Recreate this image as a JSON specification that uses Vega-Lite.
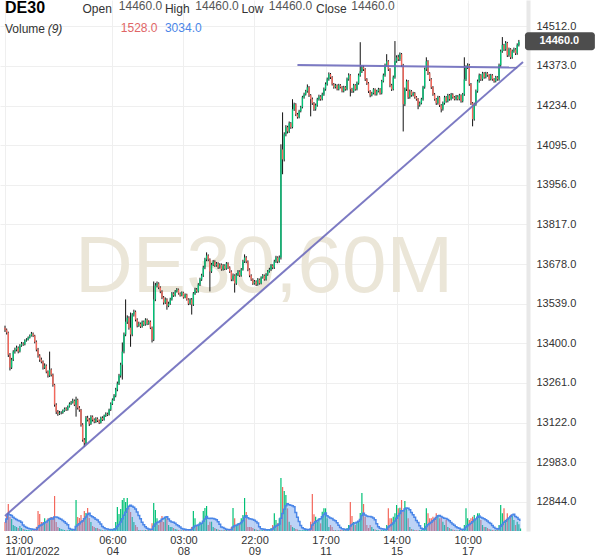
{
"$schema":"https://vega.github.io/schema/vega-lite/v6.json",
"width":528,"height":531,
"autosize":{"type":"none"},
"padding":{"left":0,"top":0,"right":72,"bottom":27},
"background":"white",
"config":{"view":{"stroke":null},"font":"Liberation Sans"},
"datasets":{
"bars":[
{"t":0,"o":13455,"h":13462,"l":13440,"c":13448,"v":5450},
{"t":1,"o":13448,"h":13452,"l":13431,"c":13438,"v":9090},
{"t":2,"o":13438,"h":13441,"l":13352,"c":13360,"v":16360},
{"t":3,"o":13360,"h":13366,"l":13305,"c":13315,"v":8480},
{"t":4,"o":13315,"h":13349,"l":13310,"c":13343,"v":7270},
{"t":5,"o":13343,"h":13376,"l":13338,"c":13371,"v":3640},
{"t":6,"o":13371,"h":13385,"l":13364,"c":13378,"v":3030},
{"t":7,"o":13378,"h":13392,"l":13372,"c":13385,"v":2420},
{"t":8,"o":13385,"h":13389,"l":13365,"c":13371,"v":1820},
{"t":9,"o":13371,"h":13397,"l":13368,"c":13392,"v":3030},
{"t":10,"o":13392,"h":13405,"l":13388,"c":13399,"v":1820},
{"t":11,"o":13399,"h":13404,"l":13391,"c":13396,"v":1210},
{"t":12,"o":13396,"h":13414,"l":13393,"c":13410,"v":910},
{"t":13,"o":13410,"h":13418,"l":13406,"c":13413,"v":610},
{"t":14,"o":13413,"h":13424,"l":13410,"c":13420,"v":610},
{"t":15,"o":13420,"h":13431,"l":13417,"c":13427,"v":480},
{"t":16,"o":13427,"h":13440,"l":13424,"c":13434,"v":480},
{"t":17,"o":13434,"h":13438,"l":13422,"c":13427,"v":610},
{"t":18,"o":13427,"h":13430,"l":13400,"c":13406,"v":910},
{"t":19,"o":13406,"h":13410,"l":13372,"c":13378,"v":2420},
{"t":20,"o":13378,"h":13384,"l":13350,"c":13357,"v":12120},
{"t":21,"o":13357,"h":13362,"l":13335,"c":13343,"v":10300},
{"t":22,"o":13343,"h":13350,"l":13330,"c":13336,"v":5450},
{"t":23,"o":13336,"h":13340,"l":13308,"c":13315,"v":5450},
{"t":24,"o":13315,"h":13330,"l":13310,"c":13322,"v":7700},
{"t":25,"o":13322,"h":13326,"l":13295,"c":13301,"v":4670},
{"t":26,"o":13301,"h":13305,"l":13280,"c":13287,"v":7700},
{"t":27,"o":13287,"h":13371,"l":13282,"c":13308,"v":7700},
{"t":28,"o":13308,"h":13312,"l":13284,"c":13290,"v":8480},
{"t":29,"o":13290,"h":13294,"l":13248,"c":13255,"v":8480},
{"t":30,"o":13255,"h":13258,"l":13178,"c":13185,"v":21210},
{"t":31,"o":13185,"h":13190,"l":13152,"c":13160,"v":5450},
{"t":32,"o":13160,"h":13166,"l":13146,"c":13153,"v":2420},
{"t":33,"o":13153,"h":13163,"l":13149,"c":13157,"v":1820},
{"t":34,"o":13157,"h":13162,"l":13151,"c":13157,"v":1210},
{"t":35,"o":13157,"h":13168,"l":13153,"c":13164,"v":910},
{"t":36,"o":13164,"h":13175,"l":13160,"c":13171,"v":610},
{"t":37,"o":13171,"h":13176,"l":13163,"c":13167,"v":480},
{"t":38,"o":13167,"h":13182,"l":13164,"c":13178,"v":480},
{"t":39,"o":13178,"h":13193,"l":13175,"c":13188,"v":610},
{"t":40,"o":13188,"h":13198,"l":13184,"c":13192,"v":610},
{"t":41,"o":13192,"h":13206,"l":13189,"c":13199,"v":910},
{"t":42,"o":13199,"h":13203,"l":13180,"c":13185,"v":1210},
{"t":43,"o":13185,"h":13213,"l":13143,"c":13202,"v":18790},
{"t":44,"o":13202,"h":13206,"l":13168,"c":13174,"v":8480},
{"t":45,"o":13174,"h":13180,"l":13160,"c":13167,"v":7880},
{"t":46,"o":13167,"h":13170,"l":13108,"c":13115,"v":9700},
{"t":47,"o":13115,"h":13120,"l":13055,"c":13062,"v":6670},
{"t":48,"o":13062,"h":13068,"l":13037,"c":13051,"v":12120},
{"t":49,"o":13051,"h":13145,"l":13046,"c":13139,"v":10910},
{"t":50,"o":13139,"h":13146,"l":13126,"c":13132,"v":13940},
{"t":51,"o":13132,"h":13138,"l":13110,"c":13118,"v":7880},
{"t":52,"o":13118,"h":13148,"l":13114,"c":13143,"v":5450},
{"t":53,"o":13143,"h":13147,"l":13126,"c":13132,"v":3030},
{"t":54,"o":13132,"h":13137,"l":13120,"c":13125,"v":2420},
{"t":55,"o":13125,"h":13141,"l":13121,"c":13136,"v":1820},
{"t":56,"o":13136,"h":13140,"l":13124,"c":13129,"v":1820},
{"t":57,"o":13129,"h":13133,"l":13117,"c":13122,"v":1210},
{"t":58,"o":13122,"h":13143,"l":13119,"c":13139,"v":910},
{"t":59,"o":13139,"h":13144,"l":13128,"c":13132,"v":610},
{"t":60,"o":13132,"h":13150,"l":13129,"c":13146,"v":480},
{"t":61,"o":13146,"h":13158,"l":13142,"c":13153,"v":480},
{"t":62,"o":13153,"h":13157,"l":13145,"c":13150,"v":610},
{"t":63,"o":13150,"h":13171,"l":13147,"c":13167,"v":610},
{"t":64,"o":13167,"h":13193,"l":13163,"c":13188,"v":910},
{"t":65,"o":13188,"h":13207,"l":13184,"c":13202,"v":1210},
{"t":66,"o":13202,"h":13222,"l":13198,"c":13216,"v":1820},
{"t":67,"o":13216,"h":13244,"l":13211,"c":13238,"v":5450},
{"t":68,"o":13238,"h":13266,"l":13232,"c":13259,"v":14540},
{"t":69,"o":13259,"h":13293,"l":13254,"c":13287,"v":10300},
{"t":70,"o":13287,"h":13332,"l":13280,"c":13325,"v":13330},
{"t":71,"o":13325,"h":13403,"l":13273,"c":13371,"v":18790},
{"t":72,"o":13371,"h":13438,"l":13365,"c":13431,"v":20000},
{"t":73,"o":13431,"h":13554,"l":13425,"c":13476,"v":17570},
{"t":74,"o":13476,"h":13498,"l":13468,"c":13490,"v":20000},
{"t":75,"o":13490,"h":13495,"l":13448,"c":13455,"v":14540},
{"t":76,"o":13455,"h":13508,"l":13388,"c":13431,"v":11510},
{"t":77,"o":13431,"h":13506,"l":13425,"c":13501,"v":8480},
{"t":78,"o":13501,"h":13518,"l":13494,"c":13511,"v":5450},
{"t":79,"o":13511,"h":13515,"l":13477,"c":13483,"v":3640},
{"t":80,"o":13483,"h":13488,"l":13456,"c":13462,"v":2420},
{"t":81,"o":13462,"h":13476,"l":13458,"c":13469,"v":610},
{"t":82,"o":13469,"h":13473,"l":13454,"c":13459,"v":480},
{"t":83,"o":13459,"h":13480,"l":13455,"c":13476,"v":480},
{"t":84,"o":13476,"h":13480,"l":13461,"c":13466,"v":480},
{"t":85,"o":13466,"h":13488,"l":13462,"c":13483,"v":610},
{"t":86,"o":13483,"h":13487,"l":13464,"c":13469,"v":610},
{"t":87,"o":13469,"h":13481,"l":13465,"c":13476,"v":910},
{"t":88,"o":13476,"h":13480,"l":13450,"c":13455,"v":1210},
{"t":89,"o":13455,"h":13459,"l":13403,"c":13413,"v":4670},
{"t":90,"o":13413,"h":13617,"l":13408,"c":13554,"v":16970},
{"t":91,"o":13554,"h":13612,"l":13548,"c":13603,"v":12730},
{"t":92,"o":13603,"h":13617,"l":13596,"c":13610,"v":7700},
{"t":93,"o":13610,"h":13614,"l":13590,"c":13596,"v":3640},
{"t":94,"o":13596,"h":13600,"l":13576,"c":13582,"v":6670},
{"t":95,"o":13582,"h":13586,"l":13555,"c":13561,"v":9090},
{"t":96,"o":13561,"h":13566,"l":13536,"c":13543,"v":5450},
{"t":97,"o":13543,"h":13561,"l":13538,"c":13554,"v":8480},
{"t":98,"o":13554,"h":13558,"l":13518,"c":13532,"v":7700},
{"t":99,"o":13532,"h":13546,"l":13527,"c":13539,"v":3640},
{"t":100,"o":13539,"h":13560,"l":13535,"c":13554,"v":2420},
{"t":101,"o":13554,"h":13580,"l":13550,"c":13575,"v":2420},
{"t":102,"o":13575,"h":13579,"l":13563,"c":13568,"v":1820},
{"t":103,"o":13568,"h":13587,"l":13564,"c":13582,"v":1210},
{"t":104,"o":13582,"h":13594,"l":13578,"c":13589,"v":910},
{"t":105,"o":13589,"h":13592,"l":13571,"c":13575,"v":610},
{"t":106,"o":13575,"h":13579,"l":13564,"c":13568,"v":480},
{"t":107,"o":13568,"h":13582,"l":13565,"c":13578,"v":480},
{"t":108,"o":13578,"h":13581,"l":13557,"c":13561,"v":610},
{"t":109,"o":13561,"h":13575,"l":13558,"c":13571,"v":610},
{"t":110,"o":13571,"h":13574,"l":13550,"c":13554,"v":610},
{"t":111,"o":13554,"h":13558,"l":13534,"c":13539,"v":910},
{"t":112,"o":13539,"h":13558,"l":13535,"c":13554,"v":1210},
{"t":113,"o":13554,"h":13559,"l":13501,"c":13536,"v":2420},
{"t":114,"o":13536,"h":13580,"l":13531,"c":13575,"v":12120},
{"t":115,"o":13575,"h":13595,"l":13570,"c":13589,"v":7700},
{"t":116,"o":13589,"h":13594,"l":13577,"c":13582,"v":3640},
{"t":117,"o":13582,"h":13611,"l":13578,"c":13606,"v":3640},
{"t":118,"o":13606,"h":13630,"l":13601,"c":13624,"v":5640},
{"t":119,"o":13624,"h":13644,"l":13619,"c":13638,"v":4670},
{"t":120,"o":13638,"h":13672,"l":13633,"c":13666,"v":12120},
{"t":121,"o":13666,"h":13700,"l":13660,"c":13694,"v":13940},
{"t":122,"o":13694,"h":13719,"l":13688,"c":13708,"v":15150},
{"t":123,"o":13708,"h":13712,"l":13688,"c":13694,"v":3640},
{"t":124,"o":13694,"h":13698,"l":13582,"c":13652,"v":5640},
{"t":125,"o":13652,"h":13682,"l":13647,"c":13676,"v":5640},
{"t":126,"o":13676,"h":13692,"l":13671,"c":13687,"v":2420},
{"t":127,"o":13687,"h":13691,"l":13668,"c":13673,"v":1820},
{"t":128,"o":13673,"h":13685,"l":13669,"c":13680,"v":1210},
{"t":129,"o":13680,"h":13684,"l":13661,"c":13666,"v":910},
{"t":130,"o":13666,"h":13681,"l":13662,"c":13676,"v":610},
{"t":131,"o":13676,"h":13680,"l":13655,"c":13659,"v":480},
{"t":132,"o":13659,"h":13678,"l":13655,"c":13673,"v":480},
{"t":133,"o":13673,"h":13677,"l":13657,"c":13662,"v":610},
{"t":134,"o":13662,"h":13685,"l":13658,"c":13680,"v":610},
{"t":135,"o":13680,"h":13684,"l":13661,"c":13666,"v":910},
{"t":136,"o":13666,"h":13670,"l":13647,"c":13652,"v":1210},
{"t":137,"o":13652,"h":13656,"l":13618,"c":13624,"v":2420},
{"t":138,"o":13624,"h":13645,"l":13618,"c":13638,"v":13940},
{"t":139,"o":13638,"h":13642,"l":13578,"c":13610,"v":7700},
{"t":140,"o":13610,"h":13646,"l":13605,"c":13641,"v":3640},
{"t":141,"o":13641,"h":13657,"l":13636,"c":13652,"v":4670},
{"t":142,"o":13652,"h":13656,"l":13633,"c":13638,"v":4670},
{"t":143,"o":13638,"h":13664,"l":13634,"c":13659,"v":7700},
{"t":144,"o":13659,"h":13693,"l":13655,"c":13687,"v":9700},
{"t":145,"o":13687,"h":13712,"l":13682,"c":13701,"v":20000},
{"t":146,"o":13701,"h":13706,"l":13681,"c":13687,"v":11510},
{"t":147,"o":13687,"h":13691,"l":13653,"c":13659,"v":2420},
{"t":148,"o":13659,"h":13663,"l":13632,"c":13638,"v":2420},
{"t":149,"o":13638,"h":13642,"l":13619,"c":13624,"v":2420},
{"t":150,"o":13624,"h":13628,"l":13605,"c":13610,"v":1820},
{"t":151,"o":13610,"h":13622,"l":13606,"c":13617,"v":1210},
{"t":152,"o":13617,"h":13621,"l":13601,"c":13606,"v":910},
{"t":153,"o":13606,"h":13629,"l":13602,"c":13624,"v":610},
{"t":154,"o":13624,"h":13627,"l":13606,"c":13610,"v":480},
{"t":155,"o":13610,"h":13635,"l":13607,"c":13631,"v":480},
{"t":156,"o":13631,"h":13643,"l":13627,"c":13638,"v":610},
{"t":157,"o":13638,"h":13641,"l":13620,"c":13624,"v":610},
{"t":158,"o":13624,"h":13646,"l":13620,"c":13641,"v":610},
{"t":159,"o":13641,"h":13657,"l":13637,"c":13652,"v":910},
{"t":160,"o":13652,"h":13665,"l":13648,"c":13659,"v":1210},
{"t":161,"o":13659,"h":13678,"l":13654,"c":13673,"v":1820},
{"t":162,"o":13673,"h":13677,"l":13660,"c":13666,"v":3640},
{"t":163,"o":13666,"h":13693,"l":13661,"c":13687,"v":10730},
{"t":164,"o":13687,"h":13707,"l":13682,"c":13701,"v":6670},
{"t":165,"o":13701,"h":13705,"l":13681,"c":13687,"v":4670},
{"t":166,"o":13687,"h":13708,"l":13683,"c":13701,"v":7700},
{"t":167,"o":13701,"h":14098,"l":13694,"c":14080,"v":32120},
{"t":168,"o":14080,"h":14210,"l":13993,"c":14045,"v":26660},
{"t":169,"o":14045,"h":14140,"l":14038,"c":14133,"v":24240},
{"t":170,"o":14133,"h":14165,"l":14126,"c":14158,"v":21820},
{"t":171,"o":14158,"h":14163,"l":14136,"c":14143,"v":13760},
{"t":172,"o":14143,"h":14178,"l":14138,"c":14172,"v":5640},
{"t":173,"o":14172,"h":14176,"l":14152,"c":14158,"v":3640},
{"t":174,"o":14158,"h":14256,"l":14154,"c":14221,"v":2420},
{"t":175,"o":14221,"h":14244,"l":14215,"c":14238,"v":1820},
{"t":176,"o":14238,"h":14242,"l":14197,"c":14203,"v":1210},
{"t":177,"o":14203,"h":14208,"l":14188,"c":14193,"v":910},
{"t":178,"o":14193,"h":14219,"l":14189,"c":14214,"v":610},
{"t":179,"o":14214,"h":14233,"l":14210,"c":14228,"v":480},
{"t":180,"o":14228,"h":14268,"l":14224,"c":14263,"v":480},
{"t":181,"o":14263,"h":14279,"l":14258,"c":14273,"v":610},
{"t":182,"o":14273,"h":14289,"l":14269,"c":14284,"v":610},
{"t":183,"o":14284,"h":14308,"l":14279,"c":14298,"v":910},
{"t":184,"o":14298,"h":14302,"l":14264,"c":14270,"v":1210},
{"t":185,"o":14270,"h":14274,"l":14196,"c":14256,"v":5640},
{"t":186,"o":14256,"h":14262,"l":14236,"c":14242,"v":22420},
{"t":187,"o":14242,"h":14246,"l":14215,"c":14221,"v":10120},
{"t":188,"o":14221,"h":14241,"l":14216,"c":14235,"v":8670},
{"t":189,"o":14235,"h":14261,"l":14230,"c":14256,"v":5640},
{"t":190,"o":14256,"h":14272,"l":14251,"c":14266,"v":7700},
{"t":191,"o":14266,"h":14270,"l":14251,"c":14256,"v":4670},
{"t":192,"o":14256,"h":14279,"l":14252,"c":14273,"v":11700},
{"t":193,"o":14273,"h":14297,"l":14268,"c":14291,"v":13760},
{"t":194,"o":14291,"h":14315,"l":14286,"c":14309,"v":13760},
{"t":195,"o":14309,"h":14332,"l":14304,"c":14326,"v":7700},
{"t":196,"o":14326,"h":14350,"l":14321,"c":14344,"v":2420},
{"t":197,"o":14344,"h":14348,"l":14327,"c":14333,"v":3640},
{"t":198,"o":14333,"h":14337,"l":14304,"c":14309,"v":2420},
{"t":199,"o":14309,"h":14313,"l":14293,"c":14298,"v":610},
{"t":200,"o":14298,"h":14310,"l":14294,"c":14305,"v":480},
{"t":201,"o":14305,"h":14308,"l":14287,"c":14291,"v":480},
{"t":202,"o":14291,"h":14310,"l":14287,"c":14305,"v":480},
{"t":203,"o":14305,"h":14309,"l":14294,"c":14298,"v":610},
{"t":204,"o":14298,"h":14302,"l":14280,"c":14284,"v":610},
{"t":205,"o":14284,"h":14303,"l":14280,"c":14298,"v":910},
{"t":206,"o":14298,"h":14302,"l":14286,"c":14291,"v":1210},
{"t":207,"o":14291,"h":14332,"l":14287,"c":14326,"v":1820},
{"t":208,"o":14326,"h":14347,"l":14321,"c":14340,"v":3640},
{"t":209,"o":14340,"h":14344,"l":14266,"c":14291,"v":17570},
{"t":210,"o":14291,"h":14296,"l":14278,"c":14284,"v":9090},
{"t":211,"o":14284,"h":14310,"l":14279,"c":14305,"v":5450},
{"t":212,"o":14305,"h":14309,"l":14286,"c":14291,"v":3640},
{"t":213,"o":14291,"h":14318,"l":14287,"c":14312,"v":4850},
{"t":214,"o":14312,"h":14346,"l":14307,"c":14340,"v":6060},
{"t":215,"o":14340,"h":14456,"l":14335,"c":14354,"v":10910},
{"t":216,"o":14354,"h":14375,"l":14348,"c":14368,"v":23030},
{"t":217,"o":14368,"h":14374,"l":14355,"c":14361,"v":16360},
{"t":218,"o":14361,"h":14365,"l":14320,"c":14326,"v":8480},
{"t":219,"o":14326,"h":14330,"l":14306,"c":14312,"v":3640},
{"t":220,"o":14312,"h":14316,"l":14278,"c":14284,"v":1820},
{"t":221,"o":14284,"h":14288,"l":14263,"c":14270,"v":3640},
{"t":222,"o":14270,"h":14282,"l":14266,"c":14277,"v":2420},
{"t":223,"o":14277,"h":14295,"l":14273,"c":14291,"v":1210},
{"t":224,"o":14291,"h":14294,"l":14269,"c":14273,"v":910},
{"t":225,"o":14273,"h":14289,"l":14269,"c":14284,"v":610},
{"t":226,"o":14284,"h":14296,"l":14280,"c":14291,"v":480},
{"t":227,"o":14291,"h":14295,"l":14272,"c":14277,"v":480},
{"t":228,"o":14277,"h":14324,"l":14273,"c":14319,"v":610},
{"t":229,"o":14319,"h":14346,"l":14315,"c":14340,"v":610},
{"t":230,"o":14340,"h":14381,"l":14335,"c":14375,"v":910},
{"t":231,"o":14375,"h":14414,"l":14370,"c":14389,"v":3640},
{"t":232,"o":14389,"h":14393,"l":14355,"c":14361,"v":13760},
{"t":233,"o":14361,"h":14365,"l":14298,"c":14305,"v":7700},
{"t":234,"o":14305,"h":14310,"l":14285,"c":14291,"v":7700},
{"t":235,"o":14291,"h":14339,"l":14287,"c":14333,"v":8670},
{"t":236,"o":14333,"h":14460,"l":14328,"c":14389,"v":10730},
{"t":237,"o":14389,"h":14410,"l":14384,"c":14403,"v":15760},
{"t":238,"o":14403,"h":14412,"l":14390,"c":14396,"v":13760},
{"t":239,"o":14396,"h":14420,"l":14390,"c":14414,"v":14120},
{"t":240,"o":14414,"h":14418,"l":14369,"c":14375,"v":18790},
{"t":241,"o":14375,"h":14380,"l":14143,"c":14238,"v":11700},
{"t":242,"o":14238,"h":14297,"l":14232,"c":14291,"v":18180},
{"t":243,"o":14291,"h":14325,"l":14285,"c":14319,"v":13760},
{"t":244,"o":14319,"h":14323,"l":14257,"c":14263,"v":7700},
{"t":245,"o":14263,"h":14290,"l":14258,"c":14284,"v":2420},
{"t":246,"o":14284,"h":14288,"l":14265,"c":14270,"v":1210},
{"t":247,"o":14270,"h":14282,"l":14266,"c":14277,"v":910},
{"t":248,"o":14277,"h":14281,"l":14258,"c":14263,"v":610},
{"t":249,"o":14263,"h":14267,"l":14251,"c":14256,"v":480},
{"t":250,"o":14256,"h":14260,"l":14221,"c":14235,"v":480},
{"t":251,"o":14235,"h":14248,"l":14230,"c":14242,"v":610},
{"t":252,"o":14242,"h":14261,"l":14238,"c":14256,"v":610},
{"t":253,"o":14256,"h":14303,"l":14251,"c":14298,"v":1820},
{"t":254,"o":14298,"h":14367,"l":14293,"c":14361,"v":4850},
{"t":255,"o":14361,"h":14403,"l":14355,"c":14389,"v":13760},
{"t":256,"o":14389,"h":14393,"l":14341,"c":14347,"v":10730},
{"t":257,"o":14347,"h":14351,"l":14320,"c":14326,"v":7700},
{"t":258,"o":14326,"h":14330,"l":14292,"c":14298,"v":7700},
{"t":259,"o":14298,"h":14302,"l":14268,"c":14273,"v":8670},
{"t":260,"o":14273,"h":14278,"l":14251,"c":14256,"v":8060},
{"t":261,"o":14256,"h":14260,"l":14236,"c":14242,"v":10730},
{"t":262,"o":14242,"h":14268,"l":14237,"c":14263,"v":9700},
{"t":263,"o":14263,"h":14267,"l":14229,"c":14235,"v":7700},
{"t":264,"o":14235,"h":14239,"l":14210,"c":14221,"v":8060},
{"t":265,"o":14221,"h":14248,"l":14216,"c":14242,"v":5640},
{"t":266,"o":14242,"h":14268,"l":14237,"c":14263,"v":3640},
{"t":267,"o":14263,"h":14267,"l":14244,"c":14249,"v":6670},
{"t":268,"o":14249,"h":14275,"l":14245,"c":14270,"v":2420},
{"t":269,"o":14270,"h":14274,"l":14251,"c":14256,"v":1820},
{"t":270,"o":14256,"h":14278,"l":14252,"c":14273,"v":1210},
{"t":271,"o":14273,"h":14277,"l":14258,"c":14263,"v":910},
{"t":272,"o":14263,"h":14267,"l":14252,"c":14256,"v":610},
{"t":273,"o":14256,"h":14271,"l":14252,"c":14266,"v":480},
{"t":274,"o":14266,"h":14270,"l":14252,"c":14256,"v":480},
{"t":275,"o":14256,"h":14275,"l":14252,"c":14270,"v":610},
{"t":276,"o":14270,"h":14273,"l":14244,"c":14249,"v":610},
{"t":277,"o":14249,"h":14278,"l":14245,"c":14273,"v":910},
{"t":278,"o":14273,"h":14403,"l":14268,"c":14326,"v":3640},
{"t":279,"o":14326,"h":14375,"l":14320,"c":14368,"v":13760},
{"t":280,"o":14368,"h":14382,"l":14362,"c":14375,"v":7700},
{"t":281,"o":14375,"h":14380,"l":14303,"c":14309,"v":6670},
{"t":282,"o":14309,"h":14313,"l":14236,"c":14242,"v":7700},
{"t":283,"o":14242,"h":14246,"l":14161,"c":14186,"v":8670},
{"t":284,"o":14186,"h":14244,"l":14181,"c":14238,"v":9700},
{"t":285,"o":14238,"h":14290,"l":14233,"c":14284,"v":6670},
{"t":286,"o":14284,"h":14325,"l":14279,"c":14319,"v":10730},
{"t":287,"o":14319,"h":14346,"l":14314,"c":14340,"v":10730},
{"t":288,"o":14340,"h":14344,"l":14320,"c":14326,"v":6670},
{"t":289,"o":14326,"h":14352,"l":14321,"c":14347,"v":3640},
{"t":290,"o":14347,"h":14351,"l":14328,"c":14333,"v":2420},
{"t":291,"o":14333,"h":14352,"l":14329,"c":14347,"v":2420},
{"t":292,"o":14347,"h":14351,"l":14335,"c":14340,"v":1820},
{"t":293,"o":14340,"h":14344,"l":14321,"c":14326,"v":1210},
{"t":294,"o":14326,"h":14345,"l":14322,"c":14340,"v":910},
{"t":295,"o":14340,"h":14344,"l":14321,"c":14326,"v":610},
{"t":296,"o":14326,"h":14330,"l":14314,"c":14319,"v":480},
{"t":297,"o":14319,"h":14338,"l":14315,"c":14333,"v":610},
{"t":298,"o":14333,"h":14337,"l":14321,"c":14326,"v":910},
{"t":299,"o":14326,"h":14381,"l":14321,"c":14375,"v":3640},
{"t":300,"o":14375,"h":14430,"l":14370,"c":14424,"v":15760},
{"t":301,"o":14424,"h":14474,"l":14419,"c":14446,"v":10730},
{"t":302,"o":14446,"h":14450,"l":14425,"c":14431,"v":13760},
{"t":303,"o":14431,"h":14460,"l":14426,"c":14453,"v":6670},
{"t":304,"o":14453,"h":14457,"l":14404,"c":14410,"v":10730},
{"t":305,"o":14410,"h":14437,"l":14405,"c":14431,"v":7700},
{"t":306,"o":14431,"h":14435,"l":14397,"c":14403,"v":9700},
{"t":307,"o":14403,"h":14430,"l":14398,"c":14424,"v":9090},
{"t":308,"o":14424,"h":14437,"l":14419,"c":14431,"v":6670},
{"t":309,"o":14431,"h":14435,"l":14411,"c":14417,"v":3640},
{"t":310,"o":14417,"h":14452,"l":14412,"c":14446,"v":5640},
{"t":311,"o":14446,"h":14464,"l":14441,"c":14458,"v":4060},
{"t":312,"o":14460,"h":14460,"l":14460,"c":14460,"v":1528}
],
"lines":[
{"g":"diag","t":0,"p":12795},{"g":"diag","t":313.5,"p":14387},
{"g":"flat","t":177,"p":14376},{"g":"flat","t":310,"p":14367}
]
},
"layer":[
{"data":{"values":[{"s":"DE30,60M"}]},
 "mark":{"type":"text","align":"center","baseline":"alphabetic","fontSize":80,"font":"Liberation Sans","color":"#ebe6d8"},
 "encoding":{"x":{"datum":156.8,"type":"quantitative","title":null,"scale":{"domain":[0,313.5],"nice":false,"zero":false}},
  "y":{"datum":13580,"type":"quantitative","scale":{"domain":[12742,14604],"nice":false,"zero":false},"axis":null},
  "text":{"field":"s"}}},
{"data":{"name":"bars"},
 "mark":{"type":"rule","color":"#111","strokeWidth":1},
 "encoding":{
  "x":{"field":"t","type":"quantitative","title":null,"scale":{"domain":[0,313.5],"nice":false,"zero":false},
   "axis":{"title":null,"values":[0,65,108,151,194,237,280],"domain":false,"ticks":false,"grid":true,"gridColor":"#efefef",
    "labelExpr":"datum.value == 0 ? ['13:00','11/01/2022'] : datum.value == 65 ? ['06:00','04'] : datum.value == 108 ? ['03:00','08'] : datum.value == 151 ? ['22:00','09'] : datum.value == 194 ? ['17:00','11'] : datum.value == 237 ? ['14:00','15'] : ['10:00','17']",
    "labelAlign":{"expr":"datum.value == 0 ? 'left' : 'center'"},
    "labelFontSize":11,"labelColor":"#333","labelPadding":3,"labelLineHeight":11,"labelOverlap":false,"labelFlush":false,"labelBound":false}},
  "y":{"field":"l","type":"quantitative","scale":{"domain":[12742,14604],"nice":false,"zero":false},
   "axis":{"title":null,"orient":"right","values":[12844,12983,13122,13261,13400,13539,13678,13817,13956,14095,14234,14373,14512],"format":".1f",
    "ticks":false,"domain":true,"domainColor":"#e8e8e8","domainWidth":4,"grid":true,"gridColor":"#efefef","labelFontSize":11,"labelColor":"#333","labelPadding":8}},
  "y2":{"field":"h"}}},
{"data":{"name":"bars"},
 "mark":{"type":"bar","width":1.4},
 "encoding":{
  "x":{"field":"t","type":"quantitative","title":null,"scale":{"domain":[0,313.5],"nice":false,"zero":false}},
  "y":{"field":"o","type":"quantitative","scale":{"domain":[12742,14604],"nice":false,"zero":false},"axis":null},
  "y2":{"field":"c"},
  "color":{"condition":{"test":"datum.c >= datum.o","value":"#00c176"},"value":"#f4675b"}}},
{"data":{"name":"bars"},
 "mark":{"type":"bar","width":1.2},
 "encoding":{
  "x":{"field":"t","type":"quantitative","title":null,"scale":{"domain":[0,313.5],"nice":false,"zero":false}},
  "y":{"field":"v","type":"quantitative","scale":{"domain":[0,322000],"nice":false},"axis":null},
  "color":{"condition":{"test":"datum.c >= datum.o","value":"#00c176"},"value":"#f4675b"}}},
{"data":{"name":"bars"},
 "transform":[{"window":[{"op":"mean","field":"v","as":"ma"}],"frame":[-8,0],"sort":[{"field":"t"}]}],
 "mark":{"type":"area","interpolate":"step","color":"#6d9eeb","opacity":0.45,"line":{"color":"#4a86e8","strokeWidth":1.5,"opacity":1}},
 "encoding":{
  "x":{"field":"t","type":"quantitative","title":null,"scale":{"domain":[0,313.5],"nice":false,"zero":false}},
  "y":{"field":"ma","type":"quantitative","scale":{"domain":[0,322000],"nice":false},"axis":null}}},
{"data":{"name":"lines"},
 "mark":{"type":"line","color":"#6e6bbd","strokeWidth":2,"opacity":0.9},
 "encoding":{
  "x":{"field":"t","type":"quantitative","title":null,"scale":{"domain":[0,313.5],"nice":false,"zero":false}},
  "y":{"field":"p","type":"quantitative","scale":{"domain":[12742,14604],"nice":false,"zero":false},"axis":null},
  "detail":{"field":"g"}}},
{"data":{"values":[{"s":"DE30"}]},
 "mark":{"type":"text","align":"left","baseline":"alphabetic","fontSize":16,"fontWeight":"bold","color":"#000"},
 "encoding":{"x":{"datum":0,"type":"quantitative","title":null},"y":{"datum":14560,"type":"quantitative","scale":{"domain":[12742,14604],"nice":false,"zero":false},"axis":null},"text":{"field":"s"}}},
{"data":{"values":[{"s":"Open"}]},
 "mark":{"type":"text","align":"left","baseline":"alphabetic","fontSize":12,"color":"#333"},
 "encoding":{"x":{"datum":46.9,"type":"quantitative","title":null},"y":{"datum":14557,"type":"quantitative","scale":{"domain":[12742,14604],"nice":false,"zero":false},"axis":null},"text":{"field":"s"}}},
{"data":{"values":[{"s":"High"}]},
 "mark":{"type":"text","align":"left","baseline":"alphabetic","fontSize":12,"color":"#333"},
 "encoding":{"x":{"datum":96.8,"type":"quantitative","title":null},"y":{"datum":14557,"type":"quantitative","scale":{"domain":[12742,14604],"nice":false,"zero":false},"axis":null},"text":{"field":"s"}}},
{"data":{"values":[{"s":"Low"}]},
 "mark":{"type":"text","align":"left","baseline":"alphabetic","fontSize":12,"color":"#333"},
 "encoding":{"x":{"datum":143.1,"type":"quantitative","title":null},"y":{"datum":14557,"type":"quantitative","scale":{"domain":[12742,14604],"nice":false,"zero":false},"axis":null},"text":{"field":"s"}}},
{"data":{"values":[{"s":"Close"}]},
 "mark":{"type":"text","align":"left","baseline":"alphabetic","fontSize":12,"color":"#333"},
 "encoding":{"x":{"datum":188.2,"type":"quantitative","title":null},"y":{"datum":14557,"type":"quantitative","scale":{"domain":[12742,14604],"nice":false,"zero":false},"axis":null},"text":{"field":"s"}}},
{"data":{"values":[{"s":"14460.0"}]},
 "mark":{"type":"text","align":"left","baseline":"alphabetic","fontSize":12,"color":"#555"},
 "encoding":{"x":{"datum":68.9,"type":"quantitative","title":null},"y":{"datum":14569,"type":"quantitative","scale":{"domain":[12742,14604],"nice":false,"zero":false},"axis":null},"text":{"field":"s"}}},
{"data":{"values":[{"s":"14460.0"}]},
 "mark":{"type":"text","align":"left","baseline":"alphabetic","fontSize":12,"color":"#555"},
 "encoding":{"x":{"datum":115.2,"type":"quantitative","title":null},"y":{"datum":14569,"type":"quantitative","scale":{"domain":[12742,14604],"nice":false,"zero":false},"axis":null},"text":{"field":"s"}}},
{"data":{"values":[{"s":"14460.0"}]},
 "mark":{"type":"text","align":"left","baseline":"alphabetic","fontSize":12,"color":"#555"},
 "encoding":{"x":{"datum":159.7,"type":"quantitative","title":null},"y":{"datum":14569,"type":"quantitative","scale":{"domain":[12742,14604],"nice":false,"zero":false},"axis":null},"text":{"field":"s"}}},
{"data":{"values":[{"s":"14460.0"}]},
 "mark":{"type":"text","align":"left","baseline":"alphabetic","fontSize":12,"color":"#555"},
 "encoding":{"x":{"datum":209.6,"type":"quantitative","title":null},"y":{"datum":14569,"type":"quantitative","scale":{"domain":[12742,14604],"nice":false,"zero":false},"axis":null},"text":{"field":"s"}}},
{"data":{"values":[{"s":"Volume"}]},
 "mark":{"type":"text","align":"left","baseline":"alphabetic","fontSize":12,"color":"#333"},
 "encoding":{"x":{"datum":0,"type":"quantitative","title":null},"y":{"datum":14487,"type":"quantitative","scale":{"domain":[12742,14604],"nice":false,"zero":false},"axis":null},"text":{"field":"s"}}},
{"data":{"values":[{"s":"(9)"}]},
 "mark":{"type":"text","align":"left","baseline":"alphabetic","fontSize":12,"fontStyle":"italic","color":"#333"},
 "encoding":{"x":{"datum":25.8,"type":"quantitative","title":null},"y":{"datum":14487,"type":"quantitative","scale":{"domain":[12742,14604],"nice":false,"zero":false},"axis":null},"text":{"field":"s"}}},
{"data":{"values":[{"s":"1528.0"}]},
 "mark":{"type":"text","align":"left","baseline":"alphabetic","fontSize":12,"color":"#e06666"},
 "encoding":{"x":{"datum":70.1,"type":"quantitative","title":null},"y":{"datum":14491,"type":"quantitative","scale":{"domain":[12742,14604],"nice":false,"zero":false},"axis":null},"text":{"field":"s"}}},
{"data":{"values":[{"s":"3034.0"}]},
 "mark":{"type":"text","align":"left","baseline":"alphabetic","fontSize":12,"color":"#4a86e8"},
 "encoding":{"x":{"datum":96.8,"type":"quantitative","title":null},"y":{"datum":14491,"type":"quantitative","scale":{"domain":[12742,14604],"nice":false,"zero":false},"axis":null},"text":{"field":"s"}}},
{"data":{"values":[{"p":14460}]},
 "mark":{"type":"rect","color":"#4d4d4d","cornerRadius":3},
 "encoding":{"x":{"datum":314.7,"type":"quantitative","title":null},"x2":{"datum":357},
  "y":{"datum":14491,"type":"quantitative","scale":{"domain":[12742,14604],"nice":false,"zero":false},"axis":null},"y2":{"datum":14428}}},
{"data":{"values":[{"p":14460}]},
 "mark":{"type":"text","align":"center","baseline":"middle","fontSize":11,"fontWeight":"bold","color":"#fff"},
 "encoding":{"x":{"datum":335.5,"type":"quantitative","title":null},
  "y":{"field":"p","type":"quantitative","scale":{"domain":[12742,14604],"nice":false,"zero":false},"axis":null},
  "text":{"field":"p","type":"quantitative","format":".1f"}}}
],
"resolve":{"scale":{"y":"independent"}}
}
